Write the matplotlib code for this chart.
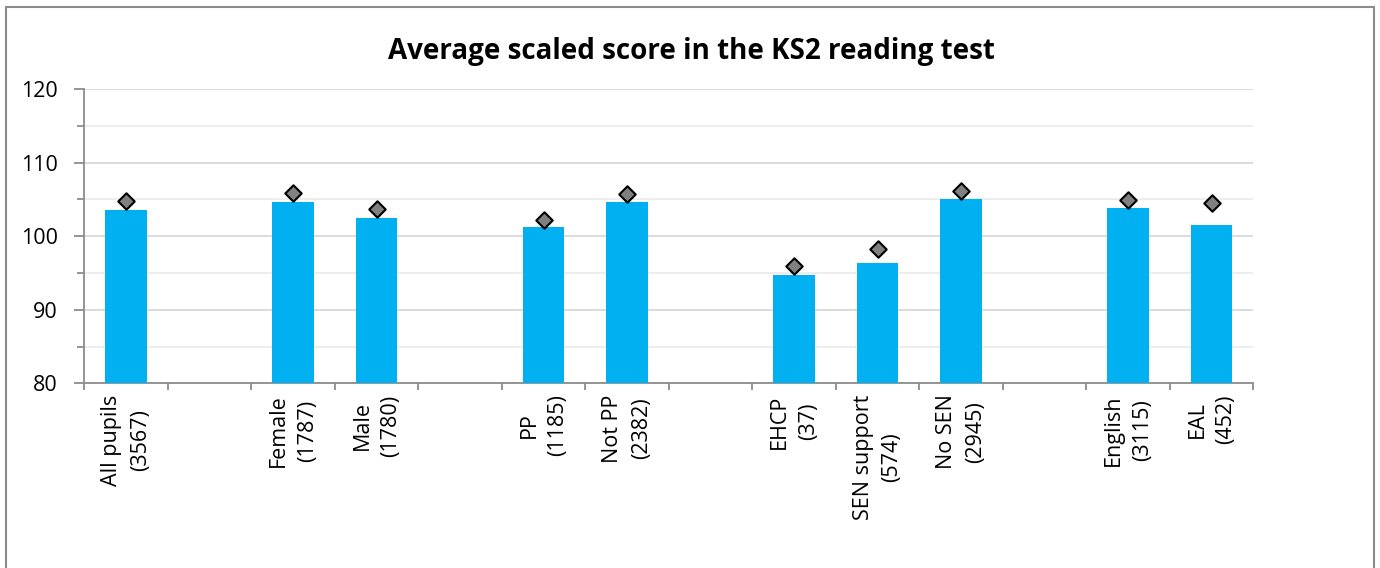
import matplotlib
matplotlib.use("Agg")
import matplotlib.pyplot as plt
from matplotlib.patches import Rectangle
from matplotlib.ticker import MultipleLocator, FixedLocator

plt.rcParams['font.family'] = ['Open Sans', 'DejaVu Sans']

categories = ["All pupils\n(3567)", "", "Female\n(1787)", "Male\n(1780)", "",
              "PP\n(1185)", "Not PP\n(2382)", "", "EHCP\n(37)", "SEN support\n(574)",
              "No SEN\n(2945)", "", "English\n(3115)", "EAL\n(452)"]
bar_values = [103.6, None, 104.7, 102.4, None, 101.2, 104.7, None, 94.7, 96.4,
              105.1, None, 103.8, 101.5]
marker_values = [104.8, None, 105.9, 103.7, None, 102.2, 105.7, None, 95.9, 98.2,
                 106.2, None, 104.9, 104.5]
title = "Average scaled score in the KS2 reading test"

W, H = 1380, 568
fig = plt.figure(figsize=(W / 100, H / 100), dpi=100)
ax = fig.add_axes([84.3 / W, 1 - 383.3 / H, (1253.3 - 84.3) / W, (383.3 - 89) / H])

# border around chart area
fig.patches.append(Rectangle((6 / W, -0.05), (1374 - 6) / W, 1 - 7 / H + 0.05,
                             transform=fig.transFigure, fill=False,
                             edgecolor='#8c8c8c', linewidth=1.5, zorder=0))

x = list(range(len(categories)))
bx = [i for i, v in zip(x, bar_values) if v is not None]
bv = [v for v in bar_values if v is not None]
mx = [i for i, v in zip(x, marker_values) if v is not None]
mv = [v for v in marker_values if v is not None]

ax.bar(bx, [v - 80 for v in bv], bottom=80, width=0.5, color='#00B0F0', zorder=3)
ax.scatter(mx, mv, marker='D', s=70, facecolor='#808080', edgecolor='black',
           linewidth=1.5, zorder=4)

ax.set_xlim(-0.5, len(categories) - 0.5)
ax.set_ylim(80, 120)

ax.yaxis.set_major_locator(MultipleLocator(10))
ax.yaxis.set_minor_locator(MultipleLocator(5))
ax.grid(axis='y', which='major', color='#d9d9d9', linewidth=1.3, zorder=0)
ax.grid(axis='y', which='minor', color='#ececec', linewidth=1.3, zorder=0)
ax.set_axisbelow(True)

ax.set_xticks(x)
ax.set_xticklabels(categories, rotation=90, fontsize=15.5, va='top', ha='center',
                   multialignment='center')
for lbl in ax.get_xticklabels():
    lbl.set_linespacing(1.5)
ax.xaxis.set_minor_locator(FixedLocator([i - 0.5 for i in range(len(categories) + 1)]))
ax.tick_params(axis='x', which='major', length=0, pad=8)
ax.tick_params(axis='x', which='minor', length=5, width=1.3, color='#8c8c8c')
ax.tick_params(axis='y', which='major', length=7, width=1.3, color='#8c8c8c',
               labelsize=15.5, pad=12)
ax.tick_params(axis='y', which='minor', length=5, width=1.3, color='#8c8c8c')

for s in ['top', 'right']:
    ax.spines[s].set_visible(False)
for s in ['left', 'bottom']:
    ax.spines[s].set_color('#8c8c8c')
    ax.spines[s].set_linewidth(1.3)

fig.text(691 / W, 1 - 51 / H, title, ha='center', va='center', fontsize=20,
         fontweight='bold')

fig.savefig("out.png", dpi=100, facecolor='white')
